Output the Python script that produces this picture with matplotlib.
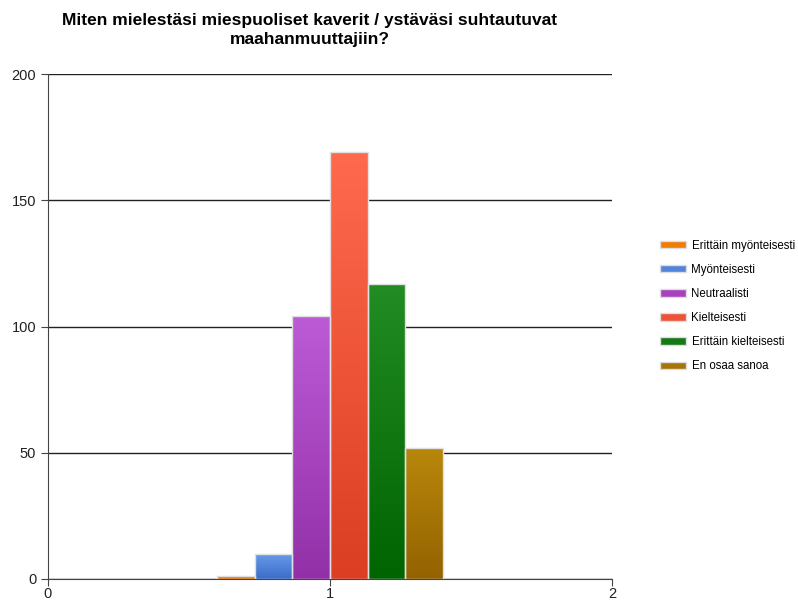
import numpy as np
import matplotlib.pyplot as plt
from matplotlib.patches import Patch
from matplotlib.colors import LinearSegmentedColormap

plt.rcParams['font.family'] = ['Liberation Sans', 'DejaVu Sans']

title = 'Miten mielestäsi miespuoliset kaverit / ystäväsi suhtautuvat\nmaahanmuuttajiin?'
categories = ['Erittäin myönteisesti', 'Myönteisesti', 'Neutraalisti',
              'Kielteisesti', 'Erittäin kielteisesti', 'En osaa sanoa']
values = [1, 10, 104, 169, 117, 52]
# (top, bottom) gradient colours
top_colors = ['#FF8A1A', '#6A9BEA', '#BD5AD6', '#FF6A4E', '#238C24', '#B8880C']
bottom_colors = ['#E06A00', '#3A6DC9', '#9230A8', '#DB3E22', '#006400', '#946200']
legend_colors = ['#F07D00', '#5484DA', '#A642BE', '#EE5238', '#147A16', '#A67408']

fig = plt.figure(figsize=(7.98, 6.03), dpi=100)
ax = fig.add_axes([48/798, 24/603, 564/798, 505/603])

n = len(values)
width = 0.8 / n
xs = 1 + (np.arange(n) - (n - 1) / 2) * width

grad = np.linspace(1, 0, 256).reshape(-1, 1)
for x, v, c1, c2 in zip(xs, values, top_colors, bottom_colors):
    cmap = LinearSegmentedColormap.from_list('g', [c2, c1])
    bar = ax.bar(x, v, width=width, color='none', edgecolor='#E0E0E0', linewidth=1, zorder=3)[0]
    im = ax.imshow(grad, cmap=cmap, aspect='auto', extent=[x - width/2, x + width/2, 0, v],
                   zorder=2, vmin=0, vmax=1)
    im.set_clip_path(bar)

ax.set_xlim(0, 2)
ax.set_ylim(0, 200)
ax.set_xticks([0, 1, 2])
ax.set_yticks([0, 50, 100, 150, 200])
ax.yaxis.grid(True, color='#222222', linewidth=1)
ax.set_axisbelow(True)
for s in ['top', 'right']:
    ax.spines[s].set_visible(False)
ax.spines['left'].set_color('#444444')
ax.spines['bottom'].set_color('#444444')
ax.tick_params(axis='both', labelsize=10.5, colors='#444444', labelcolor='#222222', length=5)
ax.tick_params(axis='x', pad=1)

fig.text(310/798, 1 - 30/603, title, ha='center', va='center', fontsize=12.5,
         fontweight='bold', linespacing=1.35)

handles = [Patch(facecolor=c, edgecolor='#DDDDDD') for c in legend_colors]
fig.legend(handles, categories, loc='center left', bbox_to_anchor=(650/798, 1 - 306/603),
           frameon=False, fontsize=8.3, handlelength=2.2, handleheight=0.6,
           labelspacing=1.05, handletextpad=0.5)

fig.savefig('out.png', dpi=100)
